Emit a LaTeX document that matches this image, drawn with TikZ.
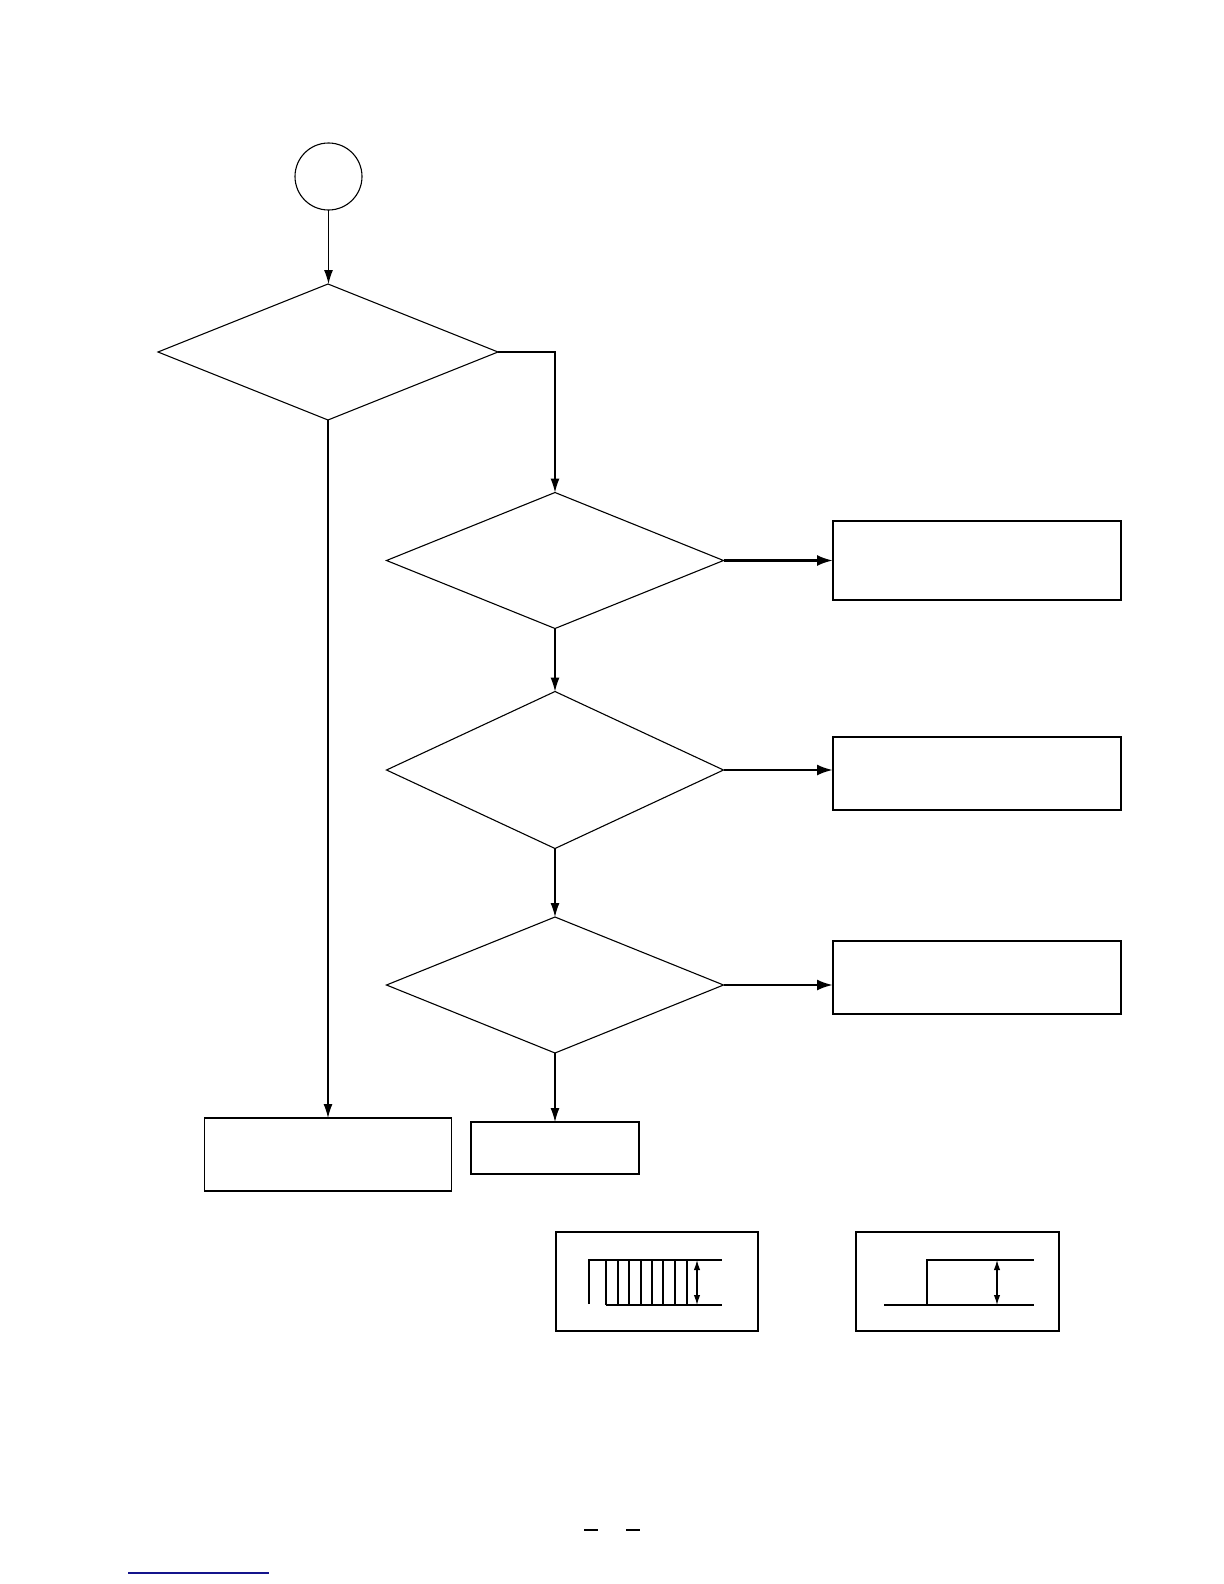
\documentclass[tikz,border=0pt]{standalone}
\usetikzlibrary{shapes.geometric,arrows.meta}
\begin{document}
\begin{tikzpicture}[x=0.5pt,y=-0.5pt,
  shp/.style={draw,line width=0.55pt,inner sep=0pt,outer sep=0pt},
  dia/.style={shp,diamond,minimum width=168.5pt,minimum height=68pt},
  boxx/.style={shp,rectangle},
  flow/.style={line width=0.6pt,-{Latex[length=7pt,width=4.5pt]}},
  hflow/.style={line width=1.3pt,-{Latex[length=8pt,width=5.5pt]}},
  wave/.style={line width=0.6pt},
  dim/.style={line width=0.6pt,{Latex[length=5pt,width=3.2pt]}-{Latex[length=5pt,width=3.2pt]}}]
\fill[white] (0,0) rectangle (1224,1584);
\useasboundingbox (0,0) rectangle (1224,1584);
% start circle
\node[shp,circle,minimum size=33.5pt] (start) at (328.5,176.5) {};
% decisions
\node[dia,minimum width=170pt] (d1) at (328,352) {};
\node[dia] (d2) at (555,560.5) {};
\node[dia,minimum height=78.5pt] (d3) at (555,770) {};
\node[dia] (d4) at (555,985) {};
% process boxes
\node[boxx,minimum width=144pt,minimum height=39.5pt] (r1) at (977,560.5) {};
\node[boxx,minimum width=144pt,minimum height=36.5pt] (r2) at (977,773.5) {};
\node[boxx,minimum width=144pt,minimum height=36.5pt] (r3) at (977,977.5) {};
\node[boxx,minimum width=123.5pt,minimum height=36.5pt] (lb) at (328,1154.5) {};
\node[boxx,minimum width=84pt,minimum height=26pt] (mb) at (555,1148) {};
% waveform boxes
\node[boxx,minimum width=101pt,minimum height=49.5pt] (w1) at (657,1281.5) {};
\node[boxx,minimum width=101.5pt,minimum height=49.5pt] (w2) at (957.5,1281.5) {};
% connectors
\coordinate (k1) at (555,352);
\draw[flow] (start.south) -- (start.south |- d1.north);
\draw[flow] (d1.east) -- (k1) -- (d2.north);
\draw[flow] (d1.south) -- (d1.south |- lb.north);
\draw[flow] (d2.south) -- (d3.north);
\draw[flow] (d3.south) -- (d4.north);
\draw[flow] (d4.south) -- (mb.north);
\draw[hflow] (d2.east) -- (d2.east -| r1.west);
\draw[hflow] (d3.east) -- (d3.east -| r2.west);
\draw[hflow] (d4.east) -- (d4.east -| r3.west);
% waveform 1 (burst)
\draw[wave] (589,1304) -- (589,1260) -- (722,1260);
\draw[wave] (606,1305) -- (722,1305);
\foreach \xx in {606,618,629,641,652,663,675,687}
  \draw[wave] (\xx,1260) -- (\xx,1305);
\draw[dim] (697,1260) -- (697,1305);
% waveform 2 (step)
\draw[wave] (884,1305) -- (1034,1305);
\draw[wave] (927,1305) -- (927,1260) -- (1034,1260);
\draw[dim] (997,1260) -- (997,1305);
% page footer marks
\draw[line width=0.6pt] (584,1530) -- (598,1530);
\draw[line width=0.6pt] (626,1530) -- (640,1530);
\draw[line width=0.8pt,color={rgb,255:red,20;green,20;blue,140}] (128,1573) -- (269,1573);
\end{tikzpicture}
\end{document}
